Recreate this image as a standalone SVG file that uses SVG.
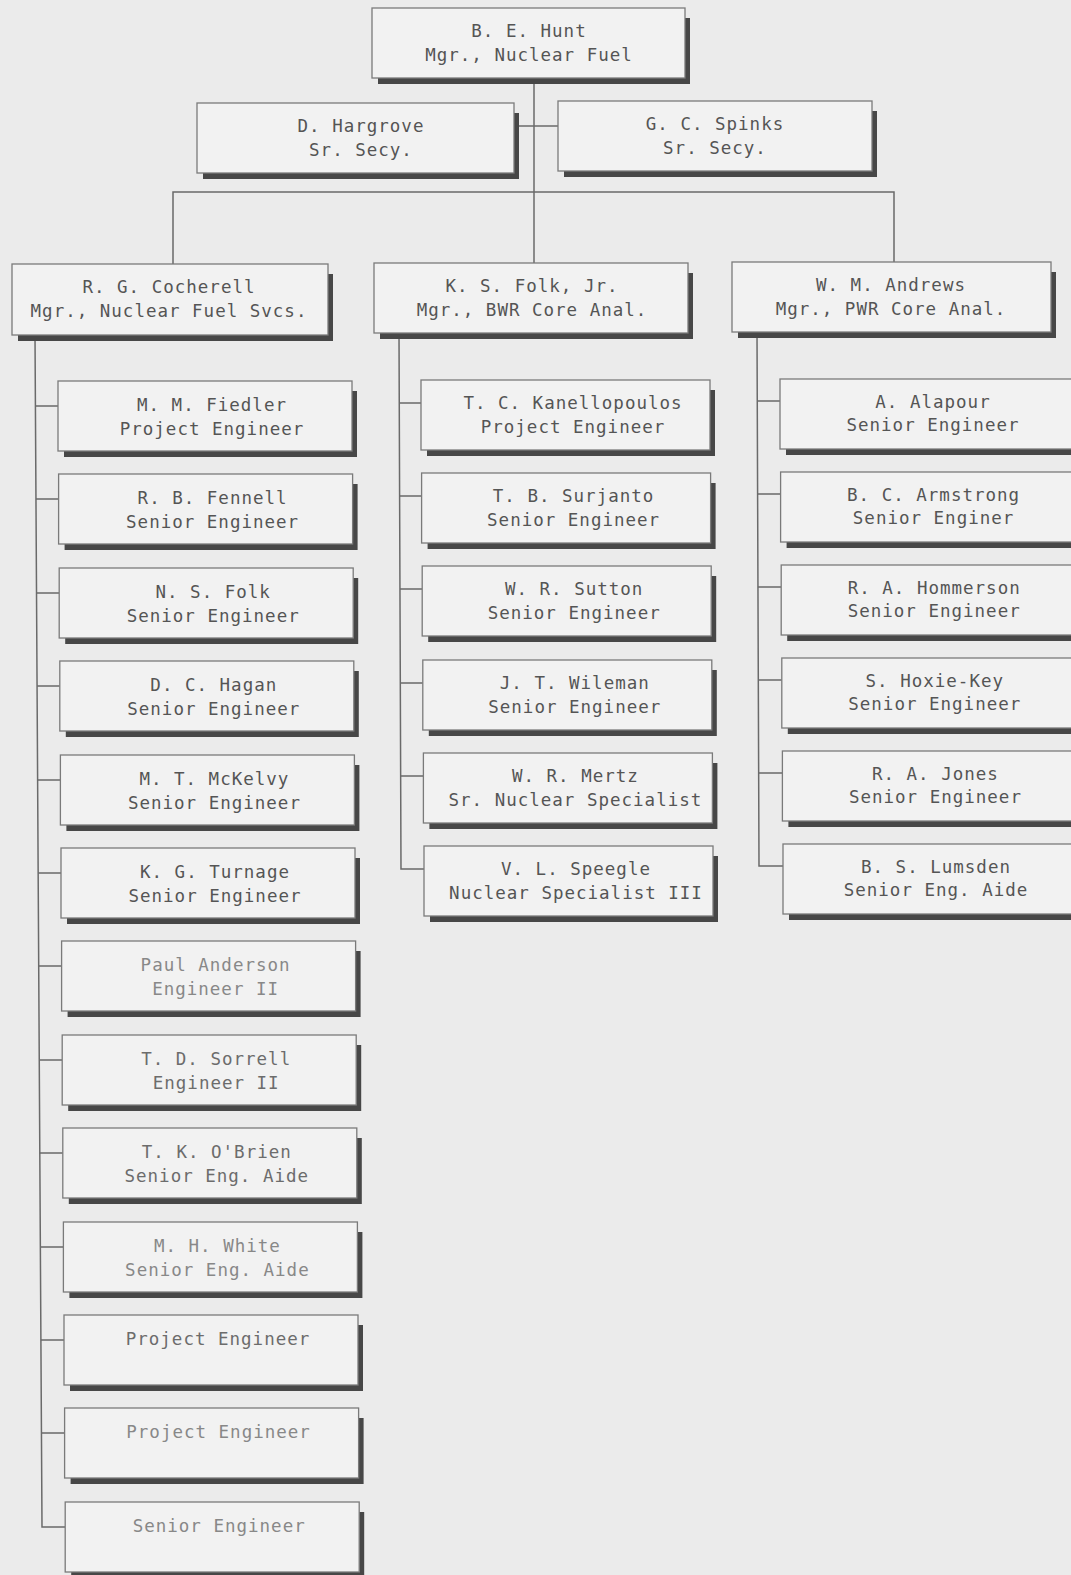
<svg xmlns="http://www.w3.org/2000/svg" width="1071" height="1575" viewBox="0 0 1071 1575">
<style>
.bg{fill:#ebebeb}
.box{fill:#f2f2f2;stroke:#7a7a7a;stroke-width:1.3}
.sh{fill:#474747}
text{font-family:"DejaVu Sans Mono","Liberation Mono",monospace;font-size:17.5px;letter-spacing:1px;text-anchor:middle;fill:#555555}
.m{fill:#6c6c6c}
.l{fill:#888888}
.conn path{fill:none;stroke:#6a6a6a;stroke-width:1.5}
</style>
<rect class="bg" x="0" y="0" width="1071" height="1575"/>
<g class="conn" id="connectors">
<path d="M534 78V263"/>
<path d="M514 126H558"/>
<path d="M173 264V192H894V262"/>
<path d="M35 335L42 1527H65.2"/>
<path d="M35.4 406H58M36 499H58.6M36.5 593H59.2M37.1 686H59.8M37.6 780H60.4M38.2 873H61M38.7 966H61.6M39.3 1060H62.2M39.8 1153H62.8M40.4 1247H63.4M40.9 1340H64M41.4 1433H64.6"/>
<path d="M399 333L401 869H424"/>
<path d="M399.3 403H421M399.6 496H421.6M400 589H422.2M400.3 683H422.8M400.6 776H423.4"/>
<path d="M757 332L759 866H783"/>
<path d="M757.3 401H780M757.6 494H780.6M757.9 587H781.2M758.3 680H781.8M758.7 773H782.4"/>
</g>
<g id="n-hunt"><path class="sh" d="M685 18h5V84H378V78H685Z"/><rect class="box" x="372" y="8" width="313" height="70"/><text x="529" y="37">B. E. Hunt</text><text x="529" y="61">Mgr., Nuclear Fuel</text></g>
<g id="n-hargrove"><path class="sh" d="M514 113h5V179H203V173H514Z"/><rect class="box" x="197" y="103" width="317" height="70"/><text x="361" y="132">D. Hargrove</text><text x="361" y="156">Sr. Secy.</text></g>
<g id="n-spinks"><path class="sh" d="M872 111h5V177H564V171H872Z"/><rect class="box" x="558" y="101" width="314" height="70"/><text x="715" y="130">G. C. Spinks</text><text x="715" y="154">Sr. Secy.</text></g>
<g id="n-cocherell"><path class="sh" d="M328 274h5V341H18V335H328Z"/><rect class="box" x="12" y="264" width="316" height="71"/><text x="169" y="293">R. G. Cocherell</text><text x="169" y="317">Mgr., Nuclear Fuel Svcs.</text></g>
<g id="n-folkjr"><path class="sh" d="M688 273h5V339H380V333H688Z"/><rect class="box" x="374" y="263" width="314" height="70"/><text x="532" y="292">K. S. Folk, Jr.</text><text x="532" y="316">Mgr., BWR Core Anal.</text></g>
<g id="n-andrews"><path class="sh" d="M1051 272h5V338H738V332H1051Z"/><rect class="box" x="732" y="262" width="319" height="70"/><text x="891" y="291">W. M. Andrews</text><text x="891" y="315">Mgr., PWR Core Anal.</text></g>

<g id="n-fiedler"><path class="sh" d="M352 391h5V457H64V451H352Z"/><rect class="box" x="58" y="381" width="294" height="70"/><text x="212" y="411">M. M. Fiedler</text><text x="212" y="435">Project Engineer</text></g>
<g id="n-fennell"><path class="sh" d="M352.6 484h5V550H64.6V544H352.6Z"/><rect class="box" x="58.6" y="474" width="294" height="70"/><text x="212.6" y="504">R. B. Fennell</text><text x="212.6" y="528">Senior Engineer</text></g>
<g id="n-nsfolk"><path class="sh" d="M353.2 578h5V644H65.2V638H353.2Z"/><rect class="box" x="59.2" y="568" width="294" height="70"/><text x="213.2" y="598">N. S. Folk</text><text x="213.2" y="622">Senior Engineer</text></g>
<g id="n-hagan"><path class="sh" d="M353.8 671h5V737H65.8V731H353.8Z"/><rect class="box" x="59.8" y="661" width="294" height="70"/><text x="213.8" y="691">D. C. Hagan</text><text x="213.8" y="715">Senior Engineer</text></g>
<g id="n-mckelvy"><path class="sh" d="M354.4 765h5V831H66.4V825H354.4Z"/><rect class="box" x="60.4" y="755" width="294" height="70"/><text x="214.4" y="785">M. T. McKelvy</text><text x="214.4" y="809">Senior Engineer</text></g>
<g id="n-turnage"><path class="sh" d="M355 858h5V924H67V918H355Z"/><rect class="box" x="61" y="848" width="294" height="70"/><text x="215" y="878">K. G. Turnage</text><text x="215" y="902">Senior Engineer</text></g>
<g id="n-anderson"><path class="sh" d="M355.6 951h5V1017H67.6V1011H355.6Z"/><rect class="box" x="61.6" y="941" width="294" height="70"/><text class="l" x="215.6" y="971">Paul Anderson</text><text class="l" x="215.6" y="995">Engineer II</text></g>
<g id="n-sorrell"><path class="sh" d="M356.2 1045h5V1111H68.2V1105H356.2Z"/><rect class="box" x="62.2" y="1035" width="294" height="70"/><text class="m" x="216.2" y="1065">T. D. Sorrell</text><text class="m" x="216.2" y="1089">Engineer II</text></g>
<g id="n-obrien"><path class="sh" d="M356.8 1138h5V1204H68.8V1198H356.8Z"/><rect class="box" x="62.8" y="1128" width="294" height="70"/><text class="m" x="216.8" y="1158">T. K. O'Brien</text><text class="m" x="216.8" y="1182">Senior Eng. Aide</text></g>
<g id="n-white"><path class="sh" d="M357.4 1232h5V1298H69.4V1292H357.4Z"/><rect class="box" x="63.4" y="1222" width="294" height="70"/><text class="l" x="217.4" y="1252">M. H. White</text><text class="l" x="217.4" y="1276">Senior Eng. Aide</text></g>
<g id="n-pe1"><path class="sh" d="M358 1325h5V1391H70V1385H358Z"/><rect class="box" x="64" y="1315" width="294" height="70"/><text class="m" x="218" y="1345">Project Engineer</text></g>
<g id="n-pe2"><path class="sh" d="M358.6 1418h5V1484H70.6V1478H358.6Z"/><rect class="box" x="64.6" y="1408" width="294" height="70"/><text class="l" x="218.6" y="1438">Project Engineer</text></g>
<g id="n-se"><path class="sh" d="M359.2 1512h5V1578H71.2V1572H359.2Z"/><rect class="box" x="65.2" y="1502" width="294" height="70"/><text class="l" x="219.2" y="1532">Senior Engineer</text></g>

<g id="n-kanellopoulos"><path class="sh" d="M710 390h5V456H427V450H710Z"/><rect class="box" x="421" y="380" width="289" height="70"/><text x="573" y="409">T. C. Kanellopoulos</text><text x="573" y="433">Project Engineer</text></g>
<g id="n-surjanto"><path class="sh" d="M710.6 483h5V549H427.6V543H710.6Z"/><rect class="box" x="421.6" y="473" width="289" height="70"/><text x="573.6" y="502">T. B. Surjanto</text><text x="573.6" y="526">Senior Engineer</text></g>
<g id="n-sutton"><path class="sh" d="M711.2 576h5V642H428.2V636H711.2Z"/><rect class="box" x="422.2" y="566" width="289" height="70"/><text x="574.2" y="595">W. R. Sutton</text><text x="574.2" y="619">Senior Engineer</text></g>
<g id="n-wileman"><path class="sh" d="M711.8 670h5V736H428.8V730H711.8Z"/><rect class="box" x="422.8" y="660" width="289" height="70"/><text x="574.8" y="689">J. T. Wileman</text><text x="574.8" y="713">Senior Engineer</text></g>
<g id="n-mertz"><path class="sh" d="M712.4 763h5V829H429.4V823H712.4Z"/><rect class="box" x="423.4" y="753" width="289" height="70"/><text x="575.4" y="782">W. R. Mertz</text><text x="575.4" y="806">Sr. Nuclear Specialist</text></g>
<g id="n-speegle"><path class="sh" d="M713 856h5V922H430V916H713Z"/><rect class="box" x="424" y="846" width="289" height="70"/><text x="576" y="875">V. L. Speegle</text><text x="576" y="899">Nuclear Specialist III</text></g>

<g id="n-alapour"><path class="sh" d="M1085 389h5V455H786V449H1085Z"/><rect class="box" x="780" y="379" width="305" height="70"/><text x="933" y="408">A. Alapour</text><text x="933" y="431">Senior Engineer</text></g>
<g id="n-armstrong"><path class="sh" d="M1085.6 482h5V548H786.6V542H1085.6Z"/><rect class="box" x="780.6" y="472" width="305" height="70"/><text x="933.6" y="501">B. C. Armstrong</text><text x="933.6" y="524">Senior Enginer</text></g>
<g id="n-hommerson"><path class="sh" d="M1086.2 575h5V641H787.2V635H1086.2Z"/><rect class="box" x="781.2" y="565" width="305" height="70"/><text x="934.2" y="594">R. A. Hommerson</text><text x="934.2" y="617">Senior Engineer</text></g>
<g id="n-hoxiekey"><path class="sh" d="M1086.8 668h5V734H787.8V728H1086.8Z"/><rect class="box" x="781.8" y="658" width="305" height="70"/><text x="934.8" y="687">S. Hoxie-Key</text><text x="934.8" y="710">Senior Engineer</text></g>
<g id="n-jones"><path class="sh" d="M1087.4 761h5V827H788.4V821H1087.4Z"/><rect class="box" x="782.4" y="751" width="305" height="70"/><text x="935.4" y="780">R. A. Jones</text><text x="935.4" y="803">Senior Engineer</text></g>
<g id="n-lumsden"><path class="sh" d="M1088 854h5V920H789V914H1088Z"/><rect class="box" x="783" y="844" width="305" height="70"/><text x="936" y="873">B. S. Lumsden</text><text x="936" y="896">Senior Eng. Aide</text></g>
</svg>
